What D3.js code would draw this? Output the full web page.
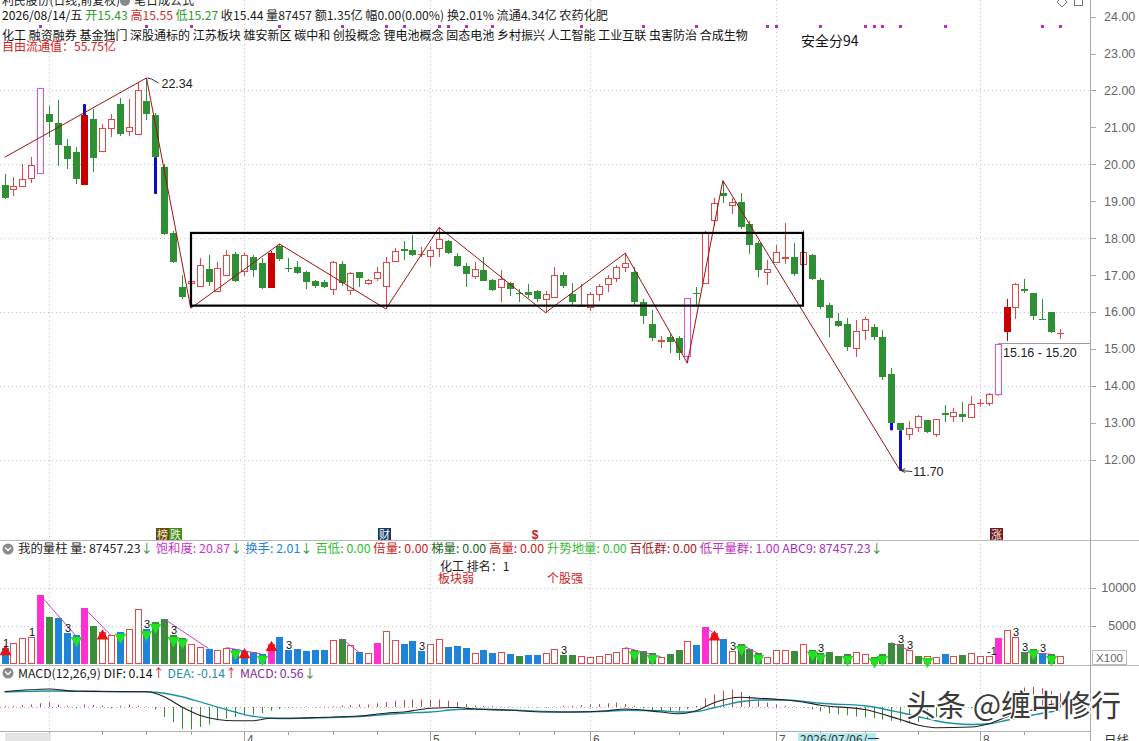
<!DOCTYPE html>
<html><head><meta charset="utf-8">
<script src="https://cdn.jsdelivr.net/npm/d3@7/dist/d3.min.js"></script>
<style>
html,body{margin:0;padding:0;background:#fff;overflow:hidden}
svg{display:block}
</style></head><body>
<svg id="chart" width="1139" height="741"></svg>
<script>
// ================= DATA =================
const opens=[19.43,19.34,19.41,19.64,19.77,21.36,21.11,20.50,20.34,19.45,
21.22,20.37,20.99,21.63,20.90,20.81,21.72,21.33,19.92,18.15,
16.68,16.77,16.71,17.17,16.56,17.00,17.57,17.11,17.50,17.32,
16.65,17.78,17.19,17.23,17.07,16.83,16.82,16.61,17.31,16.59,
17.07,16.77,16.91,16.71,17.39,17.71,17.68,17.56,17.52,17.72,
17.93,17.51,17.24,16.96,17.13,16.87,16.67,16.78,16.51,16.53,
16.56,16.35,16.41,17.01,16.49,16.16,16.14,16.49,16.76,16.93,
17.22,17.08,16.28,15.66,15.21,15.31,15.29,14.81,16.51,16.78,
18.49,19.22,18.89,18.98,18.37,17.86,17.08,17.36,17.46,17.48,
17.29,17.55,16.86,16.20,15.75,15.66,15.03,15.50,15.59,15.32,
14.31,12.99,12.70,12.88,13.08,12.68,13.25,13.17,13.24,13.14,
13.52,13.53,13.78,15.45,16.13,16.62,16.50,15.82,15.99,15.43];
const highs=[19.75,19.65,20.01,20.19,22.06,21.59,21.75,20.69,20.47,21.63,
21.50,21.08,21.36,21.79,21.77,22.21,22.34,21.40,20.01,18.18,
17.00,17.00,17.46,17.53,17.35,17.69,17.62,17.60,17.55,17.46,
17.64,17.84,17.46,17.37,17.11,16.86,16.86,17.37,17.37,17.09,
17.07,16.89,17.23,17.48,17.73,17.91,18.09,17.75,17.79,18.29,
17.94,17.59,17.33,17.36,17.50,16.90,17.13,16.81,16.62,16.76,
16.58,16.56,17.22,17.08,16.78,16.76,16.53,16.76,16.99,17.27,
17.59,17.22,16.35,16.05,15.34,15.39,15.34,16.39,16.67,18.18,
19.10,19.56,19.10,19.22,18.46,17.91,17.40,17.82,18.41,17.88,
18.23,17.57,16.93,16.23,15.96,15.84,15.78,15.87,15.66,15.51,
14.49,12.99,13.05,13.20,13.08,13.11,13.47,13.39,13.56,13.71,
13.64,13.80,15.16,16.35,16.78,16.89,16.50,16.35,15.99,15.55];
const lows=[19.07,19.15,19.38,19.50,19.75,20.74,19.95,19.86,19.46,19.45,
19.80,20.35,20.74,20.76,20.78,20.81,21.20,19.20,18.08,17.32,
16.34,16.10,16.71,16.71,16.54,17.00,16.82,16.98,16.95,16.63,
16.65,17.37,17.08,17.03,16.61,16.66,16.64,16.45,16.71,16.45,
16.68,16.73,16.83,16.08,17.36,17.40,17.51,17.48,17.22,17.48,
17.57,17.22,16.67,16.90,16.83,16.56,16.26,16.44,16.26,16.39,
16.28,15.98,16.39,16.65,16.16,16.12,16.03,16.30,16.53,16.81,
17.08,16.17,15.66,15.20,15.02,14.88,14.70,14.61,16.12,16.76,
18.32,18.96,18.64,18.25,17.57,16.94,16.72,17.36,17.31,16.96,
17.08,16.86,16.08,15.33,15.59,14.95,14.79,15.23,15.23,14.16,
12.79,11.70,12.54,12.75,12.73,12.61,13.02,13.02,13.02,13.14,
13.42,13.45,13.73,15.20,15.81,16.50,15.77,15.78,15.43,15.27];
const closes=[19.09,19.40,19.61,19.97,22.06,21.15,20.51,20.14,19.61,21.33,
20.17,20.99,21.24,20.83,21.02,22.00,21.36,20.19,18.10,17.35,
16.40,16.84,17.26,16.80,17.18,17.55,16.84,17.55,17.14,16.65,
17.60,17.44,17.17,17.05,16.80,16.71,16.68,17.35,16.77,17.06,
16.91,16.86,17.07,17.35,17.66,17.66,17.54,17.58,17.68,17.97,
17.59,17.25,17.04,17.15,16.85,16.58,16.90,16.62,16.50,16.46,
16.35,16.49,17.01,16.70,16.28,16.17,16.49,16.69,16.93,17.22,
17.33,16.26,15.89,15.29,15.23,15.18,14.88,16.38,16.49,18.14,
18.96,19.15,18.98,18.30,17.82,17.13,17.15,17.63,17.48,17.02,
17.61,16.88,16.13,15.84,15.63,15.05,15.48,15.81,15.32,14.23,
12.99,12.79,12.86,13.17,12.75,13.11,13.21,13.29,13.14,13.50,
13.54,13.78,15.14,16.14,16.76,16.57,15.90,15.80,15.45,15.44];
const magentaCandles=[5,78,113];
const redFilledCandles=[10,31,114];
const blueMarks=[[10,21.63,21.33],[18,20.19,19.20],[101,12.99,12.79],[102,12.79,11.70]];
const zigzag=[[1,20.19],[17,22.34],[22,16.10],[32,17.84],[44,16.08],[50,18.29],[62,15.98],[71,17.59],[78,14.61],[82,19.56],[102,11.70]];
const boxFrom=22, boxTo=91, boxTop=18.14, boxBottom=16.17;
const priceTicks=[24,23,22,21,20,19,18,17,16,15,14,13,12];
const priceGrid=[22,20,18,16,14,12];
const monthStarts=[6,28,49,67,88,111];
const monthLabels=["","4","5","6","7","8"];
const weekTicks=[12,17,22,33,38,43,54,59,63,72,77,82,93,98,104,116];
const signalDots=[5,17,22,32,39,44,46,50,51,53,56,66,73,79,87,88,93,98,99,100,102,107,118,120];

const volumes=[2112,2800,3448,3577,9051,6206,5991,4051,3750,7327,
5043,4181,3750,4181,4612,7198,4526,5474,5905,3750,
3448,2672,2241,2026,1896,2155,2026,1724,1508,1293,
2672,3534,1896,1940,1681,1810,1896,3103,3318,2457,
1508,1465,2801,4267,3189,2586,2974,1681,2672,3232,
2241,2327,2112,1379,1810,1465,1595,1293,1034,1164,
1164,1379,2026,1164,1164,1078,948,1078,1250,1595,
2155,1896,1724,1379,948,1293,1896,2974,2457,4827,
4051,3232,1724,2586,2026,1379,948,1896,1896,1681,
2672,1896,1465,1508,1078,1250,1508,1293,948,1293,
2801,2672,1810,1034,1034,948,1293,1034,1164,1379,
1034,1034,3405,4396,3534,1508,2026,1465,1293,1034];
const volColors=("brrrmgbbbm"+"grrbrrbggg"+"grrbrrbbbb"+"mbbbbbbrgr"+"brmrrbbbrr"+
"bbbrbbrbgb"+"brrggrrrrr"+"rgggrggrbm"+"rbrgggrrrg"+"rgggggrrgg"+"ggrgrrbrgr"+"rrmrrggbgr").split("");
const volTicks=[10000,5000];
const greenTriangles=[9,14,17,18,20,21,27,30,72,74,84,86,92,93,96,99,100,105,117,119];
const redTriangles=[1,12,28,31,81];
const volLabels=[[1,"1"],[4,"1"],[8,"3"],[17,"3"],[20,"3"],[33,"3"],[48,"3"],[64,"3"],[83,"3"],[93,"3"],[102,"3"],[103,"3"],[112,"-1"],[115,"3"],[116,"3"],[118,"3"]];
const volLines=[[5,9],[10,13],[19,24],[26,30],[39,41],[71,75],[80,81],[84,86],[101,103],[116,119]];

const macdHist=[0.05,0.05,0.08,0.1,0.15,0.2,0.1,0.05,-0.05,0.1,0.08,0.05,-0.05,0.05,0.1,0.05,0.02,
-0.1,
-0.4,-0.6,-0.87,-0.9,-0.8,-0.7,-0.53,-0.47,-0.4,-0.33,-0.3,-0.24,
-0.15,-0.08,-0.03,0,0.02,-0.02,0.02,
0.03,0.05,0.08,0.1,0.1,0.15,0.2,0.25,0.28,0.3,0.3,0.3,0.3,0.25,0.2,0.12,0.06,0.05,0.03,0.02,0.02,0,-0.02,-0.02,-0.03,
0.02,0.05,0.05,0.08,0.1,0.12,
0.15,0.18,0.12,0.05,
-0.05,-0.12,-0.15,-0.18,-0.15,-0.08,0.05,
0.35,0.5,0.65,0.7,0.6,0.45,0.3,0.18,0.1,0.05,0.02,-0.02,
-0.1,-0.18,-0.25,-0.3,-0.33,-0.38,-0.42,-0.45,-0.5,-0.55,-0.6,-0.62,-0.6,-0.5,-0.4,-0.3,-0.2,-0.1,-0.05,
0,0.1,0.3,0.5,0.65,0.78,0.8,0.75,0.65,0.56];
const difPoints=[[1,0.62],[6,0.72],[9,0.63],[12,0.62],[17,0.61],[19,0.41],[21,0.0],[23,-0.33],[25,-0.5],[27,-0.55],[29,-0.55],[31,-0.45],[33,-0.45],[37,-0.41],[41,-0.36],[44,-0.25],[46,-0.2],[49,-0.05],[52,-0.02],[54,-0.08],[58,-0.13],[62,-0.2],[65,-0.2],[69,-0.15],[71,-0.08],[75,-0.2],[77,-0.27],[79,-0.15],[81,0.17],[84,0.39],[86,0.35],[89,0.28],[91,0.2],[93,0.07],[98,-0.1],[102,-0.5],[104,-0.72],[106,-0.83],[110,-0.8],[112,-0.67],[114,-0.4],[117,-0.1],[118,0.05],[120,0.14]];
const deaPoints=[[1,0.6],[6,0.64],[12,0.62],[17,0.61],[19,0.55],[21,0.41],[23,0.21],[25,0.0],[27,-0.2],[29,-0.37],[31,-0.45],[33,-0.46],[37,-0.43],[41,-0.38],[44,-0.3],[46,-0.25],[49,-0.2],[52,-0.1],[54,-0.08],[58,-0.12],[62,-0.18],[65,-0.2],[69,-0.17],[71,-0.13],[75,-0.15],[77,-0.2],[79,-0.18],[81,-0.03],[84,0.21],[86,0.28],[89,0.28],[91,0.23],[93,0.15],[98,0.05],[102,-0.22],[104,-0.38],[106,-0.55],[110,-0.7],[112,-0.67],[114,-0.53],[117,-0.32],[118,-0.25],[120,-0.14]];

// header texts (content)
const line2Parts=[["2026/08/14/五 ","#111"],["开15.43 ","#2a9a2a"],["高15.55 ","#c83030"],["低15.27 ","#2a9a2a"],
 ["收15.44 量87457 额1.35亿 幅0.00(0.00%) 换2.01% 流通4.34亿 农药化肥","#222"]];
const conceptLine="化工 融资融券 基金独门 深股通标的 江苏板块 雄安新区 碳中和 创投概念 锂电池概念 固态电池 乡村振兴 人工智能 工业互联 虫害防治 合成生物";
const volHeaderParts=[["我的量柱 量: 87457.23","#222"],["↓ ","#2a8a2a"],["饱和度: 20.87","#cc33cc"],["↓ ","#2a8a2a"],
 ["换手: 2.01","#1f84d8"],["↓ ","#2a8a2a"],["百低: 0.00 ","#33bb33"],["倍量: 0.00 ","#cc2020"],
 ["梯量: 0.00 ","#226622"],["高量: 0.00 ","#cc2020"],["升势地量: 0.00 ","#33bb33"],["百低群: 0.00 ","#aa1818"],
 ["低平量群: 1.00 ","#c030c0"],["ABC9: 87457.23","#a030c0"],["↓","#2a8a2a"]];
const macdHeaderParts=[["MACD(12,26,9) ","#222"],["DIF: 0.14","#111"],["↑ ","#d02020"],["DEA: -0.14","#1b8fa6"],
 ["↑ ","#d02020"],["MACD: 0.56","#8a2a9a"],["↓","#2a8a2a"]];

// ================= SCALES =================
const svg=d3.select("#chart");
const W=1139,H=741, AX=1090;
const x=d3.scaleLinear().domain([1,120]).range([4.6,1059.8]);
const y=d3.scaleLinear().domain([12,24]).range([459.5,16.7]);
const yv=d3.scaleLinear().domain([0,10000]).range([664,587.7]);
const ym=d3.scaleLinear().domain([-1,1]).range([732,682]);
const px=n=>Math.round(x(n));
const CJK='"Noto Sans CJK SC","DejaVu Sans",sans-serif';
const NUM='"Liberation Sans","DejaVu Sans",sans-serif';

const C={green:"#2e8f35",red:"#e04646",redFill:"#c80000",mag:"#e04ee0",blue:"#0a0ac8",
 vb:"#1f84d8",vg:"#3b8c3b",vm:"#ff2fd2",vr:"#e04a4a",grid:"#c4c4c4",axis:"#a8a8a8",label:"#666"};

const gGrid=svg.append("g");
const gMain=svg.append("g");
const gText=svg.append("g");

// ================= GRID =================
gGrid.selectAll(".pg").data(priceGrid).join("line")
 .attr("x1",0).attr("x2",AX).attr("y1",d=>Math.round(y(d))+0.5).attr("y2",d=>Math.round(y(d))+0.5)
 .attr("stroke",C.grid).attr("stroke-dasharray","1,3");
gGrid.selectAll(".vg").data(volTicks).join("line")
 .attr("x1",0).attr("x2",AX).attr("y1",d=>Math.round(yv(d))+0.5).attr("y2",d=>Math.round(yv(d))+0.5)
 .attr("stroke",C.grid).attr("stroke-dasharray","1,3");
gGrid.selectAll(".mg").data(monthStarts).join("line")
 .attr("x1",d=>px(d)+0.5).attr("x2",d=>px(d)+0.5).attr("y1",0).attr("y2",731)
 .attr("stroke",C.grid).attr("stroke-dasharray","1,3");
gGrid.append("line").attr("x1",0).attr("x2",AX).attr("y1",Math.round(ym(0))+0.5).attr("y2",Math.round(ym(0))+0.5)
 .attr("stroke","#c8a8a8").attr("stroke-dasharray","1,3");

[540.5,665.5].forEach(v=>gGrid.append("line").attr("x1",0).attr("x2",W).attr("y1",v).attr("y2",v).attr("stroke","#b8b8b8"));
gGrid.append("line").attr("x1",AX+0.5).attr("x2",AX+0.5).attr("y1",0).attr("y2",H).attr("stroke",C.axis);
gGrid.append("line").attr("x1",0).attr("x2",AX).attr("y1",731.5).attr("y2",731.5).attr("stroke","#b0b0b0");

const gAx=svg.append("g");
gAx.selectAll("line").data(priceTicks).join("line")
 .attr("x1",AX).attr("x2",AX+6).attr("y1",d=>Math.round(y(d))+0.5).attr("y2",d=>Math.round(y(d))+0.5).attr("stroke",C.axis);
gAx.selectAll("text").data(priceTicks).join("text")
 .attr("x",1104).attr("y",d=>y(d)+4.5).text(d=>d.toFixed(2))
 .attr("font-family",NUM).attr("font-size",12.5).attr("fill",C.label);
const gVa=svg.append("g");
gVa.selectAll("line").data(volTicks).join("line")
 .attr("x1",AX).attr("x2",AX+6).attr("y1",d=>Math.round(yv(d))+0.5).attr("y2",d=>Math.round(yv(d))+0.5).attr("stroke",C.axis);
gVa.selectAll("text").data(volTicks).join("text")
 .attr("x",1136).attr("text-anchor","end").attr("y",d=>yv(d)+4.5).text(d=>d)
 .attr("font-family",NUM).attr("font-size",12.5).attr("fill",C.label);
gVa.append("rect").attr("x",1092.5).attr("y",650.5).attr("width",34).attr("height",14).attr("fill","#fff").attr("stroke","#bbb");
gVa.append("text").attr("x",1109.5).attr("y",662).attr("text-anchor","middle").text("X100")
 .attr("font-family",NUM).attr("font-size",11.5).attr("fill",C.label);

svg.append("g").selectAll("line").data(monthStarts).join("line")
 .attr("x1",d=>px(d)+0.5).attr("x2",d=>px(d)+0.5).attr("y1",731).attr("y2",741).attr("stroke","#a0a0a0");
svg.append("g").selectAll("line").data(weekTicks).join("line")
 .attr("x1",d=>px(d)+0.5).attr("x2",d=>px(d)+0.5).attr("y1",731).attr("y2",735).attr("stroke","#a0a0a0");
svg.append("g").selectAll("text").data(monthStarts).join("text")
 .attr("x",d=>px(d)+3).attr("y",744).text((d,i)=>monthLabels[i])
 .attr("font-family",NUM).attr("font-size",12).attr("fill","#555");
svg.append("rect").attr("x",5).attr("y",733).attr("width",46).attr("height",8).attr("fill","#e4e4e4");
svg.append("rect").attr("x",798).attr("y",733).attr("width",78).attr("height",10).attr("fill","#b4eaf0");
svg.append("text").attr("x",800).attr("y",744).text("2026/07/06/一").attr("font-family",CJK).attr("font-size",12).attr("fill","#333");
svg.append("text").attr("x",1104).attr("y",745).text("日线").attr("font-family",CJK).attr("font-size",12.5).attr("fill","#333");

// ================= CANDLES =================
const K=opens.map((o,i)=>({n:i+1,o,h:highs[i],l:lows[i],c:closes[i]}));
const gC=gMain.append("g");
K.forEach(d=>{
 const cx=px(d.n)+0.5;
 let col, hollow;
 if(magentaCandles.includes(d.n)){col=C.mag;hollow=true;}
 else if(redFilledCandles.includes(d.n)){col=C.redFill;hollow=false;}
 else if(d.c>=d.o){col=C.red;hollow=true;}
 else {col=C.green;hollow=false;}
 const top=Math.round(y(Math.max(d.o,d.c))), bot=Math.round(y(Math.min(d.o,d.c)));
 const yh=Math.round(y(d.h)), yl=Math.round(y(d.l));
 if(bot-top<1){
  gC.append("line").attr("x1",cx).attr("x2",cx).attr("y1",yh).attr("y2",yl).attr("stroke",col);
  gC.append("line").attr("x1",cx-3.5).attr("x2",cx+3.5).attr("y1",top+0.5).attr("y2",top+0.5).attr("stroke",col);
  return;
 }
 if(hollow){
  if(yh<top) gC.append("line").attr("x1",cx).attr("x2",cx).attr("y1",yh).attr("y2",top).attr("stroke",col);
  if(yl>bot) gC.append("line").attr("x1",cx).attr("x2",cx).attr("y1",bot).attr("y2",yl).attr("stroke",col);
  gC.append("rect").attr("x",cx-3).attr("y",top+0.5).attr("width",6).attr("height",bot-top)
   .attr("fill","#fff").attr("stroke",col);
 } else {
  gC.append("line").attr("x1",cx).attr("x2",cx).attr("y1",yh).attr("y2",yl).attr("stroke",col);
  gC.append("rect").attr("x",cx-3.5).attr("y",top).attr("width",7).attr("height",Math.max(1,bot-top)).attr("fill",col);
 }
});
gMain.selectAll(".bm").data(blueMarks).join("line")
 .attr("x1",d=>px(d[0])+0.5).attr("x2",d=>px(d[0])+0.5).attr("y1",d=>y(d[1])).attr("y2",d=>y(d[2]))
 .attr("stroke",C.blue).attr("stroke-width",3);

gMain.append("path").datum(zigzag).attr("d",d3.line().x(d=>x(d[0])).y(d=>y(d[1])))
 .attr("fill","none").attr("stroke","#a01010").attr("stroke-width",1);
gMain.append("rect").attr("x",px(boxFrom)).attr("y",y(boxTop)).attr("width",px(boxTo)-px(boxFrom)).attr("height",y(boxBottom)-y(boxTop))
 .attr("fill","none").attr("stroke","#000").attr("stroke-width",2.2);

const pk=zigzag[1], tr=zigzag[zigzag.length-1];
gMain.append("path").attr("d",`M${x(pk[0])+1},${y(pk[1])} L${x(pk[0])+5},${y(pk[1])+1} L${x(pk[0])+12},${y(pk[1])+5}`).attr("fill","none").attr("stroke","#333");
gText.append("text").attr("x",x(pk[0])+15).attr("y",y(pk[1])+10).text(pk[1].toFixed(2)).attr("font-family",NUM).attr("font-size",12.5).attr("fill","#222");
gMain.append("path").attr("d",`M${x(tr[0])+1},${y(tr[1])} L${x(tr[0])+12},${y(tr[1])+1}`).attr("fill","none").attr("stroke","#333");
gMain.append("path").attr("d",`M${x(tr[0])+1},${y(tr[1])} l4,-2 M${x(tr[0])+1},${y(tr[1])} l4,2`).attr("fill","none").attr("stroke","#333");
gText.append("text").attr("x",x(tr[0])+13).attr("y",y(tr[1])+5).text(tr[1].toFixed(2)).attr("font-family",NUM).attr("font-size",12.5).attr("fill","#222");
const gapLo=highs[112], gapHi=lows[113];
gMain.append("line").attr("x1",px(113)).attr("x2",AX).attr("y1",Math.round(y(gapLo))+0.5).attr("y2",Math.round(y(gapLo))+0.5).attr("stroke","#9a9a9a");
gText.append("text").attr("x",px(113)+5).attr("y",y(gapLo)+14).text(gapLo.toFixed(2)+" - "+gapHi.toFixed(2)).attr("font-family",NUM).attr("font-size",12.5).attr("fill","#222");

gMain.selectAll(".sd").data(signalDots).join("rect")
 .attr("x",d=>px(d)-1).attr("y",25).attr("width",3).attr("height",3).attr("fill","#b030c0");

function badge(xx,txt,bg,fg,w){gText.append("rect").attr("x",xx).attr("y",528).attr("width",w).attr("height",12).attr("fill",bg);
 gText.append("text").attr("x",xx+w/2).attr("y",538.5).attr("text-anchor","middle").text(txt).attr("font-family",CJK).attr("font-size",11).attr("fill",fg);}
badge(156,"榜","#6a4812","#f4e8c0",13); badge(169,"跌","#3f8a1c","#f0f8e0",13);
badge(378,"财","#163a60","#fff",13);
badge(990,"涨","#701818","#f8e8e8",13);
gText.append("text").attr("x",535).attr("y",538.5).attr("text-anchor","middle").text("$").attr("font-family",NUM).attr("font-size",12).attr("font-weight","bold").attr("fill","#c02020");

// ================= VOLUME =================
const gV=gMain.append("g");
volumes.forEach((v,i)=>{
 const n=i+1, cx=px(n)+0.5, t=Math.round(yv(v)), b=664;
 const k=volColors[i];
 if(k==="r"){
  gV.append("rect").attr("x",cx-3).attr("y",t+0.5).attr("width",6).attr("height",b-t-1).attr("fill","#fff").attr("stroke",C.vr);
 } else {
  const col=k==="b"?C.vb:k==="g"?C.vg:C.vm;
  gV.append("rect").attr("x",cx-3.5).attr("y",t).attr("width",7).attr("height",b-t).attr("fill",col);
 }
});
gV.selectAll(".vl").data(volLines).join("line")
 .attr("x1",d=>x(d[0])).attr("y1",d=>yv(volumes[d[0]-1])).attr("x2",d=>x(d[1])).attr("y2",d=>yv(volumes[d[1]-1]))
 .attr("stroke","#c040c8").attr("stroke-width",1);
const tri=d3.symbol().type(d3.symbolTriangle).size(60);
gV.selectAll(".gt").data(greenTriangles).join("path").attr("d",tri)
 .attr("transform",d=>`translate(${px(d)+0.5},${yv(volumes[d-1])+5}) rotate(180)`).attr("fill","#22e022");
gV.selectAll(".rt").data(redTriangles).join("path").attr("d",tri)
 .attr("transform",d=>`translate(${px(d)+0.5},${yv(volumes[d-1])+4})`).attr("fill","#ee1010");
gV.selectAll(".vt").data(volLabels).join("text")
 .attr("x",d=>px(d[0])-2).attr("y",d=>yv(volumes[d[0]-1])-1).text(d=>d[1])
 .attr("font-family",NUM).attr("font-size",11).attr("fill","#111");

// ================= MACD =================
const gM=gMain.append("g");
gM.selectAll("line").data(macdHist).join("line")
 .attr("x1",(d,i)=>px(i+1)+0.5).attr("x2",(d,i)=>px(i+1)+0.5)
 .attr("y1",ym(0)).attr("y2",d=>ym(d)).attr("stroke",d=>d>=0?"#c04848":"#2f8f2f");
const ln=d3.line().x(d=>x(d[0])).y(d=>ym(d[1])).curve(d3.curveMonotoneX);
gM.append("path").datum(deaPoints).attr("d",ln).attr("fill","none").attr("stroke","#1b8fa6").attr("stroke-width",1.3);
gM.append("path").datum(difPoints).attr("d",ln).attr("fill","none").attr("stroke","#222").attr("stroke-width",1.2);

// ================= HEADER TEXTS =================
function seg(xx,yy,str,col,maxW,fs){
 const t=gText.append("text").attr("x",xx).attr("y",yy).text(str).attr("font-family",CJK).attr("font-size",fs||12).attr("fill",col);
 if(maxW && t.node().getComputedTextLength()>maxW) t.attr("textLength",maxW).attr("lengthAdjust","spacingAndGlyphs");
 return t;
}
function multi(xx,yy,parts,len,fs){
 const t=gText.append("text").attr("x",xx).attr("y",yy).attr("font-family",CJK).attr("font-size",fs||12).attr("xml:space","preserve");
 parts.forEach(p=>t.append("tspan").text(p[0]).attr("fill",p[1]));
 t.attr("textLength",len).attr("lengthAdjust","spacingAndGlyphs");
 return t;
}
seg(2,5,"利民股份(日线,前复权)","#222",118);
gText.append("circle").attr("cx",125).attr("cy",1).attr("r",5).attr("fill","#8a8a8a");
seg(134,5,"笔日成公式","#222",68);
multi(2,20,line2Parts,606);
seg(2,40,conceptLine,"#111",750);
seg(2,51,"自由流通值：55.75亿","#d02020",115);
seg(801,46,"安全分94","#111",60,14);
gText.append("path").attr("d","M1062,-3 l5,5 l-5,5 l-5,-5 z").attr("fill","#fff").attr("stroke","#777");
gText.append("rect").attr("x",1074.5).attr("y",-3.5).attr("width",8).attr("height",9).attr("fill","#fff").attr("stroke","#777");

gText.append("circle").attr("cx",8).attr("cy",549).attr("r",5.5).attr("fill","#8a8a8a");
gText.append("path").attr("d","M5,547.5 l3,3 l3,-3").attr("fill","none").attr("stroke","#fff").attr("stroke-width",1.3);
multi(18,553,volHeaderParts,865);
seg(440,571,"化工 排名：1","#222",70);
seg(438,583,"板块弱","#cc2020",38);
seg(547,583,"个股强","#cc2020",38);

gText.append("circle").attr("cx",8).attr("cy",673).attr("r",5.5).attr("fill","#8a8a8a");
gText.append("path").attr("d","M5,671.5 l3,3 l3,-3").attr("fill","none").attr("stroke","#fff").attr("stroke-width",1.3);
multi(18,678,macdHeaderParts,298);

svg.append("text").attr("x",906).attr("y",716).text("头条 @缠中修行").attr("font-family",CJK).attr("font-size",30)
 .attr("fill","#3a3a3a").attr("stroke","#fff").attr("stroke-width",3).attr("paint-order","stroke").attr("stroke-linejoin","round");
</script>
</body></html>
